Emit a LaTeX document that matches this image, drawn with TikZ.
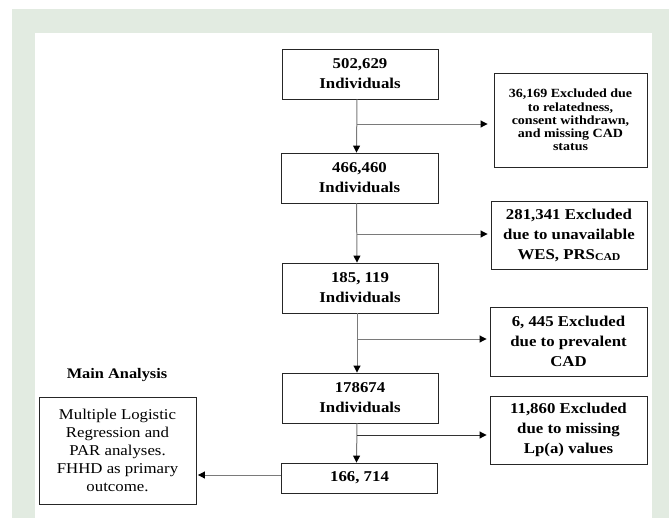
\documentclass[tikz,border=0pt]{standalone}
\usepackage{fontspec}
\setmainfont{Liberation Serif}[FakeStretch=1.12]
\usetikzlibrary{arrows.meta,calc}
\definecolor{framegreen}{HTML}{E2EBE1}
\definecolor{linegray}{HTML}{7A7A7A}
\begin{document}
\begin{tikzpicture}[x=1pt,y=-1pt,
  flowbox/.style={draw=black!85,line width=0.9pt,align=center,inner sep=0pt,
    font=\bfseries\fontsize{15}{20}\selectfont},
  arr/.style={draw=linegray,line width=1pt,-{Triangle[length=7pt,width=7pt,color=black]}}]
\useasboundingbox (0,0) rectangle (669,517);
\fill[framegreen] (12,9) rectangle (672,520);
\fill[white] (35,33) rectangle (652,520);
% main column
\node[flowbox,minimum width=156pt,minimum height=50pt] (b1) at (360,74) {502,629\\Individuals};
\node[flowbox,minimum width=157pt,minimum height=50pt] (b2) at (359.5,178) {466,460\\Individuals};
\node[flowbox,minimum width=156pt,minimum height=50pt] (b3) at (360,288) {185, 119\\Individuals};
\node[flowbox,minimum width=156pt,minimum height=50pt] (b4) at (360,398) {178674\\Individuals};
\node[flowbox,minimum width=156pt,minimum height=30pt] (b5) at (359.5,478) {166, 714};
% exclusion boxes
\node[flowbox,minimum width=153pt,minimum height=94pt,font=\bfseries\fontsize{12.5}{13.2}\selectfont] (e1) at (570.5,120)
  {36,169 Excluded due\\to relatedness,\\consent withdrawn,\\and missing CAD\\status};
\node[flowbox,minimum width=156pt,minimum height=68pt] (e2) at (569,235)
  {281,341 Excluded\\due to unavailable\\WES, PRS{\fontsize{10.5}{10}\selectfont\raisebox{-1.2pt}{CAD}}};
\node[flowbox,minimum width=157pt,minimum height=69pt] (e3) at (568.5,341.5)
  {6, 445 Excluded\\due to prevalent\\CAD};
\node[flowbox,minimum width=157pt,minimum height=68pt] (e4) at (568.5,430)
  {11,860 Excluded\\due to missing\\Lp(a) values};
% main analysis
\node[font=\bfseries\fontsize{14.6}{18}\selectfont] (mt) at (117,375) {Main Analysis};
\node[flowbox,font=\fontsize{15}{18}\selectfont,minimum width=157pt,minimum height=107pt] (ma) at (117.5,450.5)
  {Multiple Logistic\\Regression and\\PAR analyses.\\FHHD as primary\\outcome.};
% vertical connectors
\draw[arr] ([xshift=-3pt]b1.south) -- ([xshift=-3pt]b2.north);
\draw[arr] ([xshift=-3pt]b2.south) -- ([xshift=-3pt]b3.north);
\draw[arr] ([xshift=-3pt]b3.south) -- ([xshift=-3pt]b4.north);
\draw[arr] ([xshift=-3pt]b4.south) -- ([xshift=-3pt]b5.north);
% branches
\coordinate (j1) at (357,124);
\coordinate (j2) at (357,234);
\coordinate (j3) at (357,339);
\coordinate (j4) at (357,435);
\draw[arr] (j1) -- ([xshift=-6pt]e1.west |- j1);
\draw[arr] (j2) -- ([xshift=-3pt]e2.west |- j2);
\draw[arr] (j3) -- ([xshift=-3pt]e3.west |- j3);
\draw[arr,draw=black!80] (j4) -- ([xshift=-3pt]e4.west |- j4);
% to main analysis
\draw[arr] ([yshift=3pt]b5.west) -- ([xshift=1.5pt,yshift=3pt]ma.east |- b5.west);
\end{tikzpicture}
\end{document}
